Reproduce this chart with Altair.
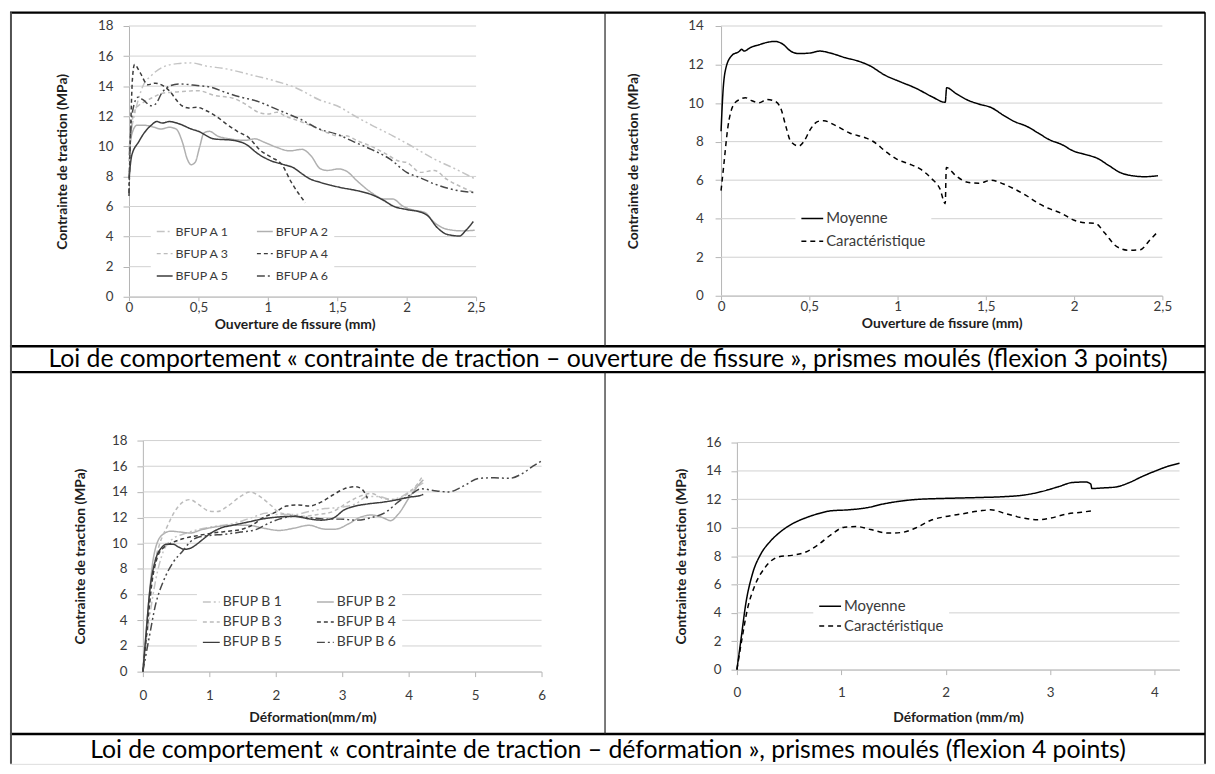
import altair as alt
import pandas as pd

FONT = "Lato"

# ---------------- Panel 1 : BFUP A, ouverture de fissure ----------------
A_names = ["BFUP A 1", "BFUP A 2", "BFUP A 3", "BFUP A 4", "BFUP A 5", "BFUP A 6"]
A1_x = [0, 0.01, 0.05, 0.1, 0.16, 0.24, 0.35, 0.45, 0.55, 0.7, 0.88, 1.05, 1.2, 1.37, 1.52, 1.62, 1.75, 1.9, 2.0, 2.2, 2.35, 2.5]
A1_y = [9.8, 10.6, 12.5, 14.0, 14.7, 15.25, 15.5, 15.55, 15.35, 15.15, 14.75, 14.35, 13.9, 13.1, 12.6, 12.05, 11.4, 10.7, 10.2, 9.15, 8.5, 7.8]
A2_x = [0, 0.02, 0.057, 0.11, 0.18, 0.23, 0.29, 0.34, 0.385, 0.42, 0.447, 0.476, 0.51, 0.54, 0.58, 0.635, 0.725, 0.84, 0.907, 0.975, 1.065, 1.156, 1.247, 1.31, 1.38, 1.43, 1.51, 1.56, 1.655, 1.745, 1.836, 1.9, 1.97, 2.04, 2.13, 2.2, 2.29, 2.4, 2.49]
A2_y = [9.4, 10.8, 11.4, 11.4, 11.27, 11.15, 11.27, 11.15, 10.27, 9.15, 8.78, 8.93, 10.0, 10.9, 11.0, 10.7, 10.5, 10.4, 10.5, 10.27, 9.93, 9.7, 9.8, 9.38, 8.5, 8.4, 8.5, 8.38, 7.6, 6.93, 6.5, 6.5, 6.04, 5.78, 5.6, 4.93, 4.49, 4.38, 4.42]
A3_x = [0, 0.02, 0.05, 0.1, 0.16, 0.25, 0.385, 0.5, 0.61, 0.75, 0.84, 0.93, 1.0, 1.065, 1.13, 1.22, 1.34, 1.43, 1.5, 1.56, 1.65, 1.745, 1.85, 1.95, 2.0, 2.1, 2.2, 2.29, 2.43, 2.49]
A3_y = [9.0, 11.5, 12.5, 12.9, 13.2, 13.55, 13.64, 13.7, 13.4, 13.2, 12.8, 12.27, 12.15, 12.27, 12.0, 11.7, 11.27, 10.9, 10.7, 10.7, 10.35, 10.0, 9.5, 9.0, 8.93, 8.27, 8.4, 7.8, 7.15, 6.9]
A4_x = [0, 0.01, 0.025, 0.04, 0.08, 0.135, 0.19, 0.25, 0.3, 0.34, 0.38, 0.43, 0.49, 0.55, 0.62, 0.7, 0.78, 0.86, 0.95, 1.03, 1.1, 1.17, 1.27]
A4_y = [6.9, 10.5, 14.5, 15.45, 14.9, 14.1, 14.2, 14.0, 13.6, 13.1, 12.7, 12.55, 12.6, 12.4, 12.05, 11.5, 11.0, 10.6, 9.7, 9.25, 8.8, 7.6, 6.25]
A5_x = [0, 0.02, 0.07, 0.11, 0.16, 0.2, 0.24, 0.29, 0.36, 0.45, 0.5, 0.61, 0.75, 0.84, 0.93, 1.02, 1.11, 1.18, 1.25, 1.29, 1.38, 1.52, 1.65, 1.745, 1.836, 1.9, 2.0, 2.11, 2.15, 2.22, 2.29, 2.38, 2.425, 2.48]
A5_y = [7.9, 9.4, 10.3, 10.9, 11.4, 11.65, 11.55, 11.65, 11.5, 11.15, 11.0, 10.5, 10.4, 10.15, 9.5, 9.05, 8.8, 8.6, 8.15, 7.9, 7.6, 7.27, 7.04, 6.8, 6.4, 6.04, 5.8, 5.6, 5.4, 4.6, 4.15, 4.04, 4.4, 5.0]
A6_x = [0, 0.01, 0.025, 0.064, 0.1, 0.16, 0.19, 0.24, 0.3, 0.357, 0.49, 0.59, 0.69, 0.807, 0.924, 0.98, 1.08, 1.236, 1.37, 1.5, 1.62, 1.745, 1.88, 2.0, 2.1, 2.2, 2.38, 2.49]
A6_y = [6.7, 10.5, 12.3, 13.27, 13.1, 12.7, 12.8, 13.6, 14.04, 14.15, 14.04, 13.93, 13.6, 13.27, 13.0, 12.8, 12.4, 11.8, 11.15, 10.8, 10.3, 9.8, 9.15, 8.27, 7.9, 7.5, 7.04, 6.93]

# ---------------- Panel 2 : moyenne / caractéristique (ouverture) ----------------
M_names = ["Moyenne", "Caractéristique"]
M1_x = [0, 0.011, 0.027, 0.06, 0.105, 0.116, 0.13, 0.17, 0.216, 0.26, 0.305, 0.35, 0.394, 0.44, 0.505, 0.56, 0.617, 0.706, 0.77, 0.84, 0.93, 1.017, 1.106, 1.195, 1.27, 1.278, 1.33, 1.396, 1.46, 1.53, 1.596, 1.66, 1.73, 1.796, 1.86, 1.93, 1.997, 2.06, 2.13, 2.2, 2.26, 2.33, 2.4, 2.475]
M1_y = [8.54, 10.6, 11.8, 12.46, 12.7, 12.8, 12.7, 12.9, 13.03, 13.15, 13.2, 13.06, 12.7, 12.57, 12.6, 12.7, 12.6, 12.35, 12.2, 11.95, 11.44, 11.1, 10.76, 10.33, 10.04, 10.8, 10.5, 10.16, 9.95, 9.77, 9.39, 9.05, 8.8, 8.45, 8.1, 7.85, 7.51, 7.34, 7.14, 6.74, 6.4, 6.23, 6.18, 6.23]
C1_x = [0, 0.016, 0.038, 0.07, 0.105, 0.138, 0.17, 0.216, 0.26, 0.305, 0.338, 0.37, 0.394, 0.44, 0.47, 0.505, 0.55, 0.583, 0.639, 0.728, 0.817, 0.86, 0.93, 0.995, 1.06, 1.13, 1.195, 1.24, 1.27, 1.276, 1.33, 1.396, 1.46, 1.53, 1.6, 1.66, 1.73, 1.8, 1.86, 1.93, 1.997, 2.06, 2.12, 2.175, 2.24, 2.31, 2.375, 2.43, 2.475]
C1_y = [5.46, 6.83, 8.7, 9.9, 10.19, 10.28, 10.14, 10.02, 10.19, 10.1, 9.73, 8.7, 8.02, 7.77, 8.02, 8.62, 9.05, 9.08, 8.88, 8.45, 8.2, 8.02, 7.51, 7.09, 6.86, 6.57, 6.06, 5.55, 4.78, 6.66, 6.23, 5.89, 5.84, 6.0, 5.8, 5.55, 5.2, 4.78, 4.52, 4.27, 3.93, 3.79, 3.76, 3.24, 2.56, 2.36, 2.39, 2.9, 3.33]

# ---------------- Panel 3 : BFUP B, déformation ----------------
B_names = ["BFUP B 1", "BFUP B 2", "BFUP B 3", "BFUP B 4", "BFUP B 5", "BFUP B 6"]
B1_x = [0, 0.1, 0.19, 0.31, 0.45, 0.6, 0.83, 1.06, 1.35, 1.64, 1.87, 2.05, 2.28, 2.5, 2.74, 2.97, 3.2, 3.38, 3.55, 3.73, 3.9, 4.07, 4.22]
B1_y = [0, 4.2, 7.06, 9.4, 10.35, 10.7, 11.06, 11.3, 11.53, 12.0, 12.35, 12.24, 12.24, 12.47, 12.7, 12.8, 13.06, 13.65, 13.65, 13.4, 13.65, 14.24, 14.7]
B2_x = [0, 0.075, 0.16, 0.28, 0.42, 0.57, 0.71, 0.887, 1.12, 1.35, 1.58, 1.81, 2.05, 2.28, 2.5, 2.74, 2.9, 3.09, 3.26, 3.44, 3.61, 3.73, 3.84, 4.02, 4.16, 4.22]
B2_y = [0, 4.7, 8.9, 10.6, 10.94, 10.87, 10.8, 11.06, 11.3, 11.4, 11.4, 11.18, 11.0, 11.18, 11.4, 11.1, 11.1, 11.5, 12.0, 12.2, 12.0, 11.76, 12.24, 13.65, 14.6, 14.94]
B3_x = [0, 0.075, 0.16, 0.25, 0.365, 0.48, 0.6, 0.71, 0.83, 1.0, 1.12, 1.29, 1.47, 1.61, 1.76, 1.93, 2.05, 2.22, 2.4, 2.63, 2.86, 3.09, 3.32, 3.44, 3.61, 3.79, 3.96, 4.13, 4.22]
B3_y = [0, 4.0, 8.0, 9.9, 11.3, 12.47, 13.2, 13.4, 13.06, 12.5, 12.47, 12.94, 13.65, 14.0, 13.65, 12.94, 12.4, 12.24, 12.1, 12.24, 12.47, 13.2, 13.76, 13.88, 13.5, 13.4, 13.76, 14.6, 15.3]
B4_x = [0, 0.064, 0.133, 0.22, 0.31, 0.42, 0.6, 0.83, 1.06, 1.29, 1.47, 1.64, 1.81, 1.99, 2.16, 2.34, 2.5, 2.68, 2.86, 3.03, 3.2, 3.3, 3.38]
B4_y = [0, 3.3, 6.8, 8.94, 9.65, 10.0, 10.35, 10.6, 10.8, 10.94, 11.06, 11.4, 12.0, 12.4, 12.9, 12.98, 12.9, 13.2, 13.76, 14.24, 14.4, 14.2, 13.5]
B5_x = [0, 0.046, 0.1, 0.19, 0.28, 0.365, 0.45, 0.54, 0.626, 0.71, 0.8, 0.887, 1.0, 1.18, 1.35, 1.58, 1.81, 2.05, 2.28, 2.5, 2.68, 2.86, 3.03, 3.2, 3.38, 3.61, 3.84, 4.02, 4.13, 4.22]
B5_y = [0, 2.8, 6.1, 8.7, 9.65, 9.93, 9.93, 9.7, 9.53, 9.6, 9.88, 10.24, 10.7, 11.2, 11.4, 11.65, 11.9, 12.05, 12.1, 11.9, 11.8, 11.95, 12.6, 12.9, 13.06, 13.2, 13.4, 13.6, 13.67, 13.8]
B6_x = [0, 0.1, 0.19, 0.31, 0.45, 0.6, 0.71, 0.83, 1.0, 1.23, 1.47, 1.7, 1.87, 2.05, 2.28, 2.5, 2.74, 2.97, 3.2, 3.44, 3.67, 3.84, 4.02, 4.19, 4.42, 4.6, 4.83, 5.06, 5.29, 5.52, 5.7, 5.87, 6.0]
B6_y = [0, 2.8, 5.2, 7.06, 8.47, 9.4, 10.1, 10.47, 10.6, 10.7, 10.87, 11.06, 11.5, 11.88, 12.1, 12.0, 11.88, 11.88, 11.8, 12.0, 12.47, 13.2, 13.76, 14.24, 14.07, 14.0, 14.47, 15.06, 15.1, 15.06, 15.4, 16.0, 16.42]

# ---------------- Panel 4 : moyenne / caractéristique (déformation) ----------------
D1_x = [0, 0.042, 0.084, 0.147, 0.23, 0.315, 0.42, 0.525, 0.65, 0.776, 0.9, 1.07, 1.24, 1.4, 1.574, 1.74, 1.91, 2.12, 2.33, 2.54, 2.75, 2.92, 3.085, 3.21, 3.34, 3.39, 3.4, 3.5, 3.63, 3.76, 3.88, 4.01, 4.13, 4.24]
D1_y = [0, 2.3, 4.6, 6.7, 8.16, 9.0, 9.73, 10.25, 10.67, 10.98, 11.19, 11.26, 11.4, 11.67, 11.88, 12.0, 12.05, 12.09, 12.13, 12.18, 12.3, 12.55, 12.9, 13.18, 13.22, 13.07, 12.76, 12.8, 12.87, 13.18, 13.6, 14.0, 14.33, 14.54]
D2_x = [0, 0.042, 0.105, 0.168, 0.27, 0.4, 0.525, 0.65, 0.776, 0.9, 1.03, 1.15, 1.28, 1.45, 1.574, 1.7, 1.87, 1.99, 2.16, 2.33, 2.43, 2.58, 2.75, 2.875, 3.0, 3.17, 3.3, 3.4]
D2_y = [0, 1.9, 4.4, 5.86, 7.2, 7.95, 8.05, 8.26, 8.79, 9.5, 10.04, 10.08, 9.87, 9.62, 9.66, 9.94, 10.56, 10.77, 10.98, 11.19, 11.26, 10.98, 10.67, 10.56, 10.67, 10.98, 11.09, 11.19]

# ---------------- texts and ticks ----------------
Y_TITLE = "Contrainte de traction (MPa)"
X_TITLE_1 = "Ouverture de fissure (mm)"
X_TITLE_3 = "Déformation(mm/m)"
X_TITLE_4 = "Déformation (mm/m)"
CAPTIONS = [
    "Loi de comportement « contrainte de traction – ouverture de fissure », prismes moulés (flexion 3 points)",
    "Loi de comportement « contrainte de traction – déformation », prismes moulés (flexion 4 points)",
]
XT_1 = [0, 0.5, 1, 1.5, 2, 2.5]
XT_3 = [0, 1, 2, 3, 4, 5, 6]
XT_4 = [0, 1, 2, 3, 4]
YT_18 = [0, 2, 4, 6, 8, 10, 12, 14, 16, 18]
YT_14 = [0, 2, 4, 6, 8, 10, 12, 14]
YT_16 = [0, 2, 4, 6, 8, 10, 12, 14, 16]

# ---------------- styles / layout (pixels inside the single view) ----------------
W_ALL, H_ALL = 1205, 758
LIGHT_DDD = "#c4c4c4"
LIGHT_SOLID = "#b0b0b0"
LIGHT_DASH = "#bcbcbc"
DARK = "#3c3c3c"
DARK_DDD = "#484848"
DDD = [8, 3, 2, 3, 2, 3]
DASH = [4, 3]
SOLID = [1, 0]
SERIES_COLORS = [LIGHT_DDD, LIGHT_SOLID, LIGHT_DASH, DARK, DARK, DARK_DDD]
SERIES_DASHES = [DDD, SOLID, DASH, DASH, SOLID, DDD]
MEAN_COLORS = ["#000000", "#000000"]
MEAN_DASHES = [SOLID, [5, 4]]
GRID = "#d0d0d0"
AXIS = "#b4b4b4"
LABEL = "#3a3a3a"
TITLE = "#1e1e1e"
LEGEND_ORDER_6 = [0, 2, 4, 1, 3, 5]   # column-major legend -> reads row by row

FRAME = pd.DataFrame([
    dict(x=0, x2=1205, y=0.5, y2=0.5, w=2.5, c="#000000"),
    dict(x=0, x2=1205, y=337, y2=337, w=2.5, c="#000000"),
    dict(x=0, x2=1205, y=363, y2=363, w=2.5, c="#000000"),
    dict(x=0, x2=1205, y=728, y2=728, w=2.5, c="#000000"),
    dict(x=1, x2=1, y=0, y2=758, w=2, c="#505050"),
    dict(x=1205, x2=1205, y=0, y2=758, w=1.5, c="#000000"),
    dict(x=600, x2=600, y=0, y2=337, w=1.2, c="#222222"),
    dict(x=600, x2=600, y=363, y2=728, w=1.2, c="#222222"),
])
CAP_POS = pd.DataFrame({"t": CAPTIONS, "cx": [603, 603], "cy": [350, 744]})


def long_frame(names, xs, ys):
    rows = []
    for n, xv, yv in zip(names, xs, ys):
        for i, (a, b) in enumerate(zip(xv, yv)):
            rows.append({"s": n, "i": i, "x": a, "y": b})
    return pd.DataFrame(rows)


def panel(df, names, colors, dashes, order, xdom, xvals, yvals, xtitle, g, leg):
    dom = [names[k] for k in order]
    col = [colors[k] for k in order]
    dsh = [dashes[k] for k in order]
    xs = alt.Scale(domain=xdom, range=[g["x0"], g["x1"]], nice=False, zero=False)
    ys = alt.Scale(domain=[0, yvals[-1]], range=[g["y0"], g["y1"]], nice=False)
    xaxis = alt.Axis(orient="bottom", values=xvals, format=".1~f", labelExpr="replace(datum.label, '.', ',')",
                     title=xtitle, offset=-(H_ALL - g["y0"]), grid=False, titleX=g["tx"],
                     domainColor=AXIS, tickColor=AXIS, tickSize=g["xts"], labelPadding=g["xlp"],
                     titlePadding=g["xtp"], labelFont=FONT, labelFontSize=g["lfs"], labelColor=LABEL,
                     labelFlush=False, labelOverlap=False,
                     titleFont=FONT, titleFontSize=g["tfs"], titleFontWeight="bold", titleColor=TITLE)
    yaxis = alt.Axis(orient="left", values=yvals, format="d", title=Y_TITLE, offset=-g["x0"], grid=False,
                     domainColor=AXIS, tickColor=AXIS, tickSize=6, labelPadding=g["ylp"],
                     titlePadding=g["ytp"], labelFont=FONT, labelFontSize=g["lfs"], labelColor=LABEL,
                     labelOverlap=False,
                     titleFont=FONT, titleFontSize=g["tfs"], titleFontWeight="bold", titleColor=TITLE)
    legend = alt.Legend(orient="none", legendX=leg["x"], legendY=leg["y"], columns=leg["cols"],
                        fillColor="white", padding=5, symbolType="stroke", symbolSize=leg["ss"],
                        symbolStrokeWidth=1.5, labelFont=FONT, labelFontSize=leg["fs"],
                        labelColor=LABEL, rowPadding=leg["rp"], columnPadding=leg["cp"], labelOffset=2)
    grid = alt.Chart(pd.DataFrame({"g": yvals})).mark_rule(color=GRID, strokeWidth=1).encode(
        y=alt.Y("g:Q", scale=ys, axis=yaxis),
        x=alt.XDatum(xdom[0], scale=xs, axis=xaxis),
        x2=alt.X2Datum(xdom[1]),
    )
    line = alt.Chart(df).mark_line(interpolate="monotone", strokeWidth=1.5).encode(
        x=alt.X("x:Q", scale=xs, axis=xaxis),
        y=alt.Y("y:Q", scale=ys, axis=yaxis),
        color=alt.Color("s:N", scale=alt.Scale(domain=dom, range=col), legend=legend, title=None),
        strokeDash=alt.StrokeDash("s:N", scale=alt.Scale(domain=dom, range=dsh), legend=legend, title=None),
        order="i:Q",
    )
    return alt.layer(grid, line)


dfA = long_frame(A_names, [A1_x, A2_x, A3_x, A4_x, A5_x, A6_x], [A1_y, A2_y, A3_y, A4_y, A5_y, A6_y])
dfM = long_frame(M_names, [M1_x, C1_x], [M1_y, C1_y])
dfB = long_frame(B_names, [B1_x, B2_x, B3_x, B4_x, B5_x, B6_x], [B1_y, B2_y, B3_y, B4_y, B5_y, B6_y])
dfD = long_frame(M_names, [D1_x, D2_x], [D1_y, D2_y])

p1 = panel(dfA, A_names, SERIES_COLORS, SERIES_DASHES, LEGEND_ORDER_6, [0, 2.5], XT_1, YT_18, X_TITLE_1,
           dict(x0=120, x1=470, y0=287, y1=14, xts=4, xlp=0, xtp=4, ylp=10, ytp=28, lfs=13.5, tfs=14, tx=287),
           dict(x=142, y=207, cols=2, fs=12.5, rp=6.5, cp=25, ss=256))
p2 = panel(dfM, M_names, MEAN_COLORS, MEAN_DASHES, [0, 1], [0, 2.5], XT_1, YT_14, X_TITLE_1,
           dict(x0=717, x1=1162, y0=286, y1=14, xts=4, xlp=0, xtp=4, ylp=12, ytp=48, lfs=13.5, tfs=14, tx=939.5),
           dict(x=792, y=191, cols=1, fs=15, rp=3, cp=10, ss=484))
p3 = panel(dfB, B_names, SERIES_COLORS, SERIES_DASHES, LEGEND_ORDER_6, [0, 6], XT_3, YT_18, X_TITLE_3,
           dict(x0=134, x1=536, y0=665, y1=432, xts=5, xlp=12, xtp=9, ylp=10, ytp=24, lfs=13.5, tfs=14, tx=305),
           dict(x=188.5, y=580, cols=2, fs=14, rp=3.5, cp=31, ss=289))
p4 = panel(dfD, M_names, MEAN_COLORS, MEAN_DASHES, [0, 1], [0, 4.24], XT_4, YT_16, X_TITLE_4,
           dict(x0=733, x1=1179.3, y0=663, y1=434, xts=5, xlp=11, xtp=12, ylp=10, ytp=17, lfs=13.5, tfs=14, tx=956),
           dict(x=810, y=582, cols=1, fs=15, rp=0, cp=10, ss=484))

frame = alt.Chart(FRAME).mark_rule().encode(
    x=alt.X("x:Q", scale=None, axis=None), x2="x2:Q",
    y=alt.Y("y:Q", scale=None, axis=None), y2="y2:Q",
    strokeWidth=alt.StrokeWidth("w:Q", scale=None, legend=None),
    color=alt.Color("c:N", scale=None, legend=None),
)
captions = alt.Chart(CAP_POS).mark_text(font=FONT, fontSize=25, color="black").encode(
    x=alt.X("cx:Q", scale=None, axis=None),
    y=alt.Y("cy:Q", scale=None, axis=None),
    text="t:N",
)

chart = alt.layer(p1, p2, p3, p4, frame, captions).resolve_scale(
    x="independent", y="independent", color="independent", strokeDash="independent",
    strokeWidth="independent",
).resolve_axis(x="independent", y="independent").resolve_legend(
    color="independent", strokeDash="independent",
).properties(width=W_ALL, height=H_ALL, padding=0).configure_view(stroke=None).configure(font=FONT)

chart.save("out.html", embed_options={"renderer": "svg", "actions": False})
